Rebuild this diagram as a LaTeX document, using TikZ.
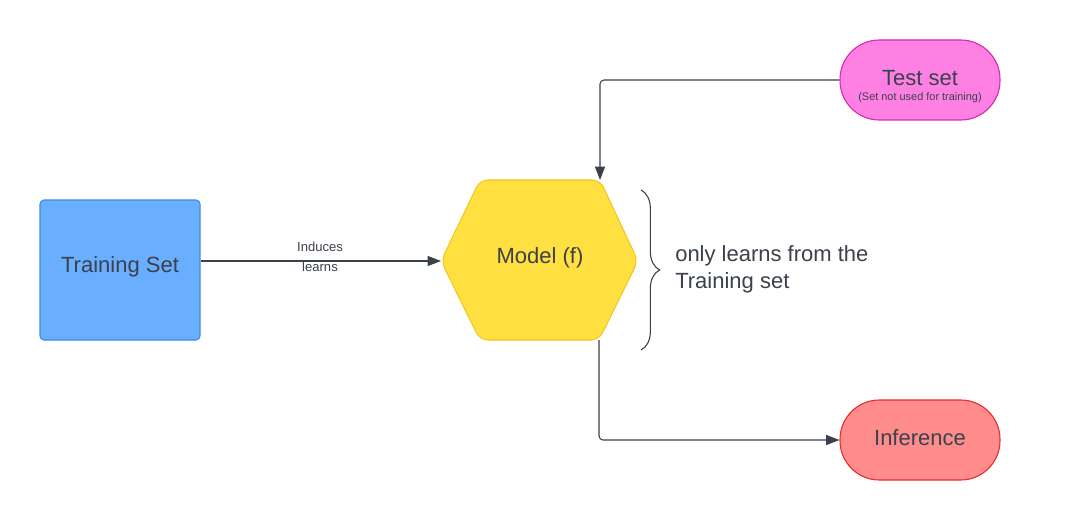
\documentclass[tikz,border=0pt]{standalone}
\usepackage{fontspec}
\setmainfont{Liberation Sans}
\usetikzlibrary{arrows.meta,decorations.pathreplacing}
\definecolor{ink}{HTML}{3A414A}
\definecolor{tsfill}{HTML}{6AAFFF}
\definecolor{tsdraw}{HTML}{3D8DE6}
\definecolor{mfill}{HTML}{FFE040}
\definecolor{mdraw}{HTML}{F2C81C}
\definecolor{pfill}{HTML}{FF80E3}
\definecolor{pdraw}{HTML}{D12AB0}
\definecolor{rfill}{HTML}{FF8C8C}
\definecolor{rdraw}{HTML}{E82A2A}
\begin{document}
\begin{tikzpicture}[x=0.75pt,y=-0.75pt,
  conn/.style={draw=ink,line width=0.8pt,-{Triangle[length=10pt,width=7.5pt]},rounded corners=3pt},
  pill/.style={rounded corners=29.5pt,minimum width=120pt,minimum height=60pt,inner sep=0pt,line width=0.8pt},
  big/.style={text=ink,font=\fontsize{16.5pt}{20pt}\selectfont,inner sep=0pt},
  small/.style={text=ink,font=\fontsize{9.8pt}{12pt}\selectfont,inner sep=0pt},
  tiny/.style={text=ink,font=\fontsize{8.2pt}{10pt}\selectfont,inner sep=0pt}
]
\useasboundingbox[fill=white] (0,0) rectangle (1080,520);

% Training set
\node[draw=tsdraw,fill=tsfill,rounded corners=3pt,minimum width=120pt,minimum height=105pt,inner sep=0pt,line width=0.8pt] (train) at (120,270) {};
\node[big] (trainlbl) at (120,266.5) {Training Set};

% Model hexagon
\coordinate (hl) at (441,261);
\coordinate (htl) at (480,180);
\coordinate (htr) at (600,180);
\coordinate (hr) at (638,261);
\coordinate (hbr) at (599,340);
\coordinate (hbl) at (480,340);
\fill[mfill,draw=mdraw,line width=0.8pt,rounded corners=6pt] (hl) -- (htl) -- (htr) -- (hr) -- (hbr) -- (hbl) -- cycle;
\node[big] (model) at (540,258) {Model (f)};

% Test set
\node[pill,draw=pdraw,fill=pfill] (test) at (920,80) {};
\node[big] (testlbl) at (920,78) {Test set};
\node[tiny] (testsub) at (920,97.5) {(Set not used for training)};

% Inference
\node[pill,draw=rdraw,fill=rfill] (infer) at (920,440) {};
\node[big] (inflbl) at (920,438) {Inference};

% Connectors
\draw[conn] (train.east |- hl) -- (hl);
\node[small] (induces) at (320,246.5) {Induces};
\node[small] (learns) at (320,267) {learns};
\draw[conn] (test.west) -| (htr);
\draw[conn] (hbr) |- (infer.west);

% Brace and note
\draw[ink,line width=0.8pt,decorate,decoration={brace,amplitude=14pt}] (641,190) -- (641,350);
\node[big,anchor=west,align=left] (note) at (675,269) {only learns from the\\Training set};
\end{tikzpicture}
\end{document}
